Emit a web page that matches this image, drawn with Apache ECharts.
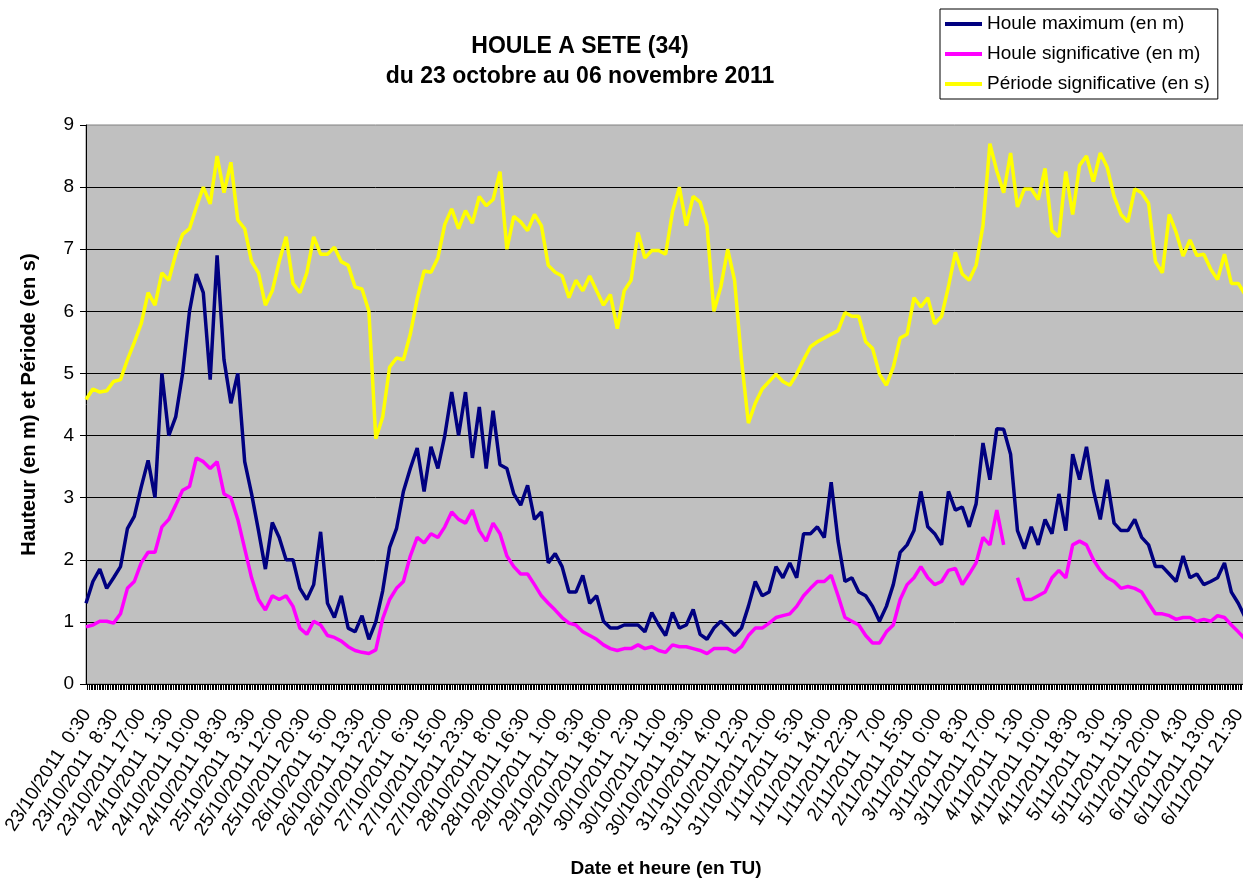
<!DOCTYPE html>
<html>
<head>
    <meta charset="utf-8">
    <title>Houle à Sète</title>
    <script src="https://cdn.jsdelivr.net/npm/echarts@6/dist/echarts.min.js"></script>
    <style>
        html, body { margin: 0; padding: 0; background: #fff; overflow: hidden; }
        #chart1 { width: 1243px; height: 879px; }
    </style>
</head>
<body>
<div id="chart1"></div>
<script type="text/javascript">
    // libellés de l'axe des dates (un toutes les 17 demi-heures)
    var tickLabels = [
        '23/10/2011  0:30', '23/10/2011  8:30', '23/10/2011 17:00',
        '24/10/2011  1:30', '24/10/2011 10:00', '24/10/2011 18:30',
        '25/10/2011  3:30', '25/10/2011 12:00', '25/10/2011 20:30',
        '26/10/2011  5:00', '26/10/2011 13:30', '26/10/2011 22:00',
        '27/10/2011  6:30', '27/10/2011 15:00', '27/10/2011 23:30',
        '28/10/2011  8:00', '28/10/2011 16:30',
        '29/10/2011  1:00', '29/10/2011  9:30', '29/10/2011 18:00',
        '30/10/2011  2:30', '30/10/2011 11:00', '30/10/2011 19:30',
        '31/10/2011  4:00', '31/10/2011 12:30', '31/10/2011 21:00',
        '1/11/2011  5:30', '1/11/2011 14:00', '1/11/2011 22:30',
        '2/11/2011  7:00', '2/11/2011 15:30',
        '3/11/2011  0:00', '3/11/2011  8:30', '3/11/2011 17:00',
        '4/11/2011  1:30', '4/11/2011 10:00', '4/11/2011 18:30',
        '5/11/2011  3:00', '5/11/2011 11:30', '5/11/2011 20:00',
        '6/11/2011  4:30', '6/11/2011 13:00', '6/11/2011 21:30'
    ];

    // Houle maximum (en m)
    var houleMax = [
        1.3, 1.65, 1.85, 1.54, 1.71, 1.89, 2.5, 2.7, 3.17, 3.6,
        3.0, 5.0, 4.0, 4.3, 5.0, 6.0, 6.6, 6.3, 4.9, 6.9,
        5.22, 4.52, 5.0, 3.58, 3.06, 2.47, 1.85, 2.6, 2.36, 2.0,
        2.0, 1.54, 1.36, 1.6, 2.45, 1.3, 1.07, 1.42, 0.9, 0.84,
        1.1, 0.72, 1.0, 1.5, 2.2, 2.5, 3.1, 3.47, 3.8, 3.1,
        3.82, 3.47, 4.0, 4.7, 4.0, 4.7, 3.64, 4.46, 3.47, 4.4,
        3.53, 3.47, 3.06, 2.88, 3.2, 2.65, 2.77, 1.95, 2.1, 1.89,
        1.48, 1.48, 1.75, 1.3, 1.42, 1.01, 0.9, 0.9, 0.95, 0.95,
        0.95, 0.84, 1.15, 0.95, 0.78, 1.15, 0.9, 0.95, 1.2, 0.8,
        0.72, 0.9, 1.01, 0.9, 0.78, 0.9, 1.25, 1.65, 1.42, 1.48,
        1.89, 1.71, 1.95, 1.71, 2.42, 2.42, 2.53, 2.36, 3.25, 2.3,
        1.65, 1.71, 1.48, 1.42, 1.25, 1.01, 1.25, 1.6, 2.12, 2.24,
        2.47, 3.1, 2.53, 2.42, 2.24, 3.1, 2.8, 2.85, 2.53, 2.9,
        3.88, 3.29, 4.11, 4.1, 3.7, 2.47, 2.18, 2.53, 2.24, 2.65,
        2.42, 3.06, 2.47, 3.7, 3.29, 3.82, 3.12, 2.65, 3.29, 2.59,
        2.47, 2.47, 2.65, 2.36, 2.24, 1.89, 1.89, 1.77, 1.65, 2.06,
        1.71, 1.77, 1.6, 1.65, 1.71, 1.95, 1.48, 1.3, 1.07
    ];

    // Houle significative (en m) - null = relevé manquant
    var houleSig = [
        0.92, 0.95, 1.01, 1.01, 0.98, 1.13, 1.54, 1.65, 1.95, 2.12,
        2.12, 2.53, 2.65, 2.88, 3.12, 3.18, 3.64, 3.58, 3.47, 3.58,
        3.06, 3.0, 2.65, 2.18, 1.71, 1.36, 1.19, 1.42, 1.36, 1.42,
        1.25, 0.9, 0.8, 1.01, 0.95, 0.78, 0.75, 0.69, 0.6, 0.54,
        0.51, 0.49, 0.55, 1.05, 1.36, 1.54, 1.65, 2.06, 2.36, 2.27,
        2.42, 2.36, 2.53, 2.77, 2.65, 2.59, 2.8, 2.47, 2.3, 2.59,
        2.42, 2.06, 1.89, 1.77, 1.77, 1.6, 1.42, 1.3, 1.19, 1.07,
        0.98, 0.95, 0.84, 0.78, 0.72, 0.63, 0.57, 0.54, 0.57, 0.57,
        0.63, 0.57, 0.6, 0.54, 0.51, 0.63, 0.6, 0.6, 0.57, 0.54,
        0.49, 0.57, 0.57, 0.57, 0.51, 0.6, 0.78, 0.9, 0.9, 0.98,
        1.07, 1.1, 1.13, 1.25, 1.42, 1.54, 1.65, 1.65, 1.75, 1.42,
        1.07, 1.01, 0.95, 0.78, 0.66, 0.66, 0.84, 0.95, 1.36, 1.6,
        1.71, 1.89, 1.71, 1.6, 1.65, 1.83, 1.86, 1.6, 1.77, 1.95,
        2.36, 2.24, 2.8, 2.24, null, 1.71, 1.36, 1.36, 1.42, 1.48,
        1.71, 1.83, 1.71, 2.24, 2.3, 2.24, 2.0, 1.83, 1.71, 1.65,
        1.54, 1.57, 1.54, 1.48, 1.3, 1.13, 1.13, 1.1, 1.04, 1.07,
        1.07, 1.01, 1.04, 1.01, 1.1, 1.07, 0.95, 0.84, 0.72
    ];

    // Période significative (en s)
    var periode = [
        4.58, 4.75, 4.7, 4.72, 4.87, 4.9, 5.22, 5.5, 5.8, 6.3,
        6.1, 6.62, 6.5, 6.92, 7.24, 7.33, 7.68, 8.0, 7.73, 8.5,
        7.91, 8.4, 7.47, 7.33, 6.8, 6.62, 6.1, 6.33, 6.8, 7.2,
        6.45, 6.3, 6.62, 7.2, 6.92, 6.92, 7.03, 6.8, 6.74, 6.39,
        6.36, 6.0, 3.95, 4.3, 5.1, 5.25, 5.22, 5.63, 6.2, 6.65,
        6.63, 6.86, 7.4, 7.65, 7.33, 7.62, 7.42, 7.85, 7.7, 7.8,
        8.25, 7.0, 7.53, 7.44, 7.3, 7.56, 7.38, 6.74, 6.63, 6.57,
        6.22, 6.5, 6.33, 6.57, 6.33, 6.1, 6.27, 5.72, 6.33, 6.5,
        7.27, 6.86, 6.98, 6.98, 6.92, 7.6, 8.0, 7.38, 7.85, 7.76,
        7.38, 6.0, 6.39, 7.0, 6.5, 5.22, 4.2, 4.52, 4.75, 4.87,
        4.99, 4.87, 4.81, 4.99, 5.22, 5.43, 5.51, 5.57, 5.63, 5.69,
        5.98, 5.92, 5.92, 5.51, 5.4, 4.99, 4.81, 5.1, 5.57, 5.63,
        6.22, 6.07, 6.22, 5.8, 5.92, 6.4, 6.95, 6.6, 6.5, 6.74,
        7.38, 8.7, 8.26, 7.91, 8.55, 7.68, 7.97, 7.97, 7.8, 8.3,
        7.3, 7.2, 8.25, 7.56, 8.35, 8.5, 8.09, 8.55, 8.32, 7.85,
        7.56, 7.44, 7.97, 7.91, 7.74, 6.8, 6.62, 7.56, 7.27, 6.89,
        7.15, 6.9, 6.92, 6.68, 6.51, 6.92, 6.45, 6.45, 6.27
    ];

    var font = 'Liberation Sans, Arial, sans-serif';

    // axe x en rang de relevé ; une demi-heure = halfHour unités
    var halfHour = 0.2339;
    var firstSlot = 0.116;
    var slotsPerLabel = 17;
    var xMax = 168.12;

    function toPairs(values) {
        return values.map(function (v, i) { return [i, v]; });
    }

    var labelValues = tickLabels.map(function (l, k) {
        return firstSlot + k * slotsPerLabel * halfHour;
    });

    // graduations fines : une par demi-heure
    var fineTicks = [];
    for (var j = 0; j <= 718; j++) {
        fineTicks.push(firstSlot + (j - 0.5) * halfHour);
    }

    var myChart1 = echarts.init(document.getElementById('chart1'));

    myChart1.setOption({
        animation: false,
        textStyle: { fontFamily: font },
        graphic: [
            {
                type: 'text', x: 580, y: 47,
                style: {
                    text: 'HOULE A SETE (34)', fill: '#000',
                    font: 'bold 23px ' + font, align: 'center', verticalAlign: 'middle'
                }
            },
            {
                type: 'text', x: 580, y: 77,
                style: {
                    text: 'du 23 octobre au 06 novembre 2011', fill: '#000',
                    font: 'bold 23px ' + font, align: 'center', verticalAlign: 'middle'
                }
            }
        ],
        legend: {
            orient: 'vertical',
            left: 940,
            top: 9,
            padding: [5, 8, 5, 5],
            backgroundColor: '#fff',
            borderColor: '#000',
            borderWidth: 1,
            borderRadius: 0,
            icon: 'rect',
            itemWidth: 37,
            itemHeight: 4,
            itemGap: 10,
            selectedMode: false,
            textStyle: { fontSize: 19, lineHeight: 20, color: '#000', fontFamily: font },
            data: ['Houle maximum (en m)', 'Houle significative (en m)', 'Période significative (en s)']
        },
        grid: {
            left: 86,
            right: -3,
            top: 125,
            bottom: 195,
            outerBoundsMode: 'none',
            containLabel: false,
            show: true,
            backgroundColor: '#C0C0C0',
            borderColor: '#808080',
            borderWidth: 1
        },
        xAxis: {
            type: 'value',
            min: 0,
            max: xMax,
            name: 'Date et heure (en TU)',
            nameLocation: 'middle',
            nameGap: 175,
            nameTextStyle: { fontSize: 19, fontWeight: 'bold', color: '#000', fontFamily: font },
            axisLine: { show: true, lineStyle: { color: '#000', width: 1 } },
            axisTick: {
                show: true,
                length: 6,
                customValues: fineTicks,
                lineStyle: { color: '#000', width: 1 }
            },
            axisLabel: {
                customValues: labelValues,
                rotate: 57,
                margin: 27,
                fontSize: 19,
                color: '#000',
                fontFamily: font,
                formatter: function (v) {
                    return tickLabels[Math.round((v - firstSlot) / (slotsPerLabel * halfHour))];
                }
            },
            splitLine: { show: false }
        },
        yAxis: {
            type: 'value',
            min: 0,
            max: 9,
            interval: 1,
            name: 'Hauteur (en m) et Période (en s)',
            nameLocation: 'middle',
            nameGap: 47,
            nameTextStyle: { fontSize: 20, fontWeight: 'bold', color: '#000', fontFamily: font },
            axisLine: { show: true, lineStyle: { color: '#000', width: 1 } },
            axisTick: { show: true, length: 6, lineStyle: { color: '#000' } },
            axisLabel: { fontSize: 19, color: '#000', margin: 12, fontFamily: font },
            splitLine: { show: true, showMaxLine: false, lineStyle: { color: '#000', width: 1 } }
        },
        series: [
            {
                name: 'Houle maximum (en m)',
                type: 'line',
                symbol: 'none',
                color: '#000080',
                lineStyle: { color: '#000080', width: 3.5 },
                data: toPairs(houleMax)
            },
            {
                name: 'Houle significative (en m)',
                type: 'line',
                symbol: 'none',
                color: '#FF00FF',
                lineStyle: { color: '#FF00FF', width: 3.5 },
                data: toPairs(houleSig)
            },
            {
                name: 'Période significative (en s)',
                type: 'line',
                symbol: 'none',
                color: '#FFFF00',
                lineStyle: { color: '#FFFF00', width: 3.5 },
                data: toPairs(periode)
            }
        ]
    });
</script>
</body>
</html>
